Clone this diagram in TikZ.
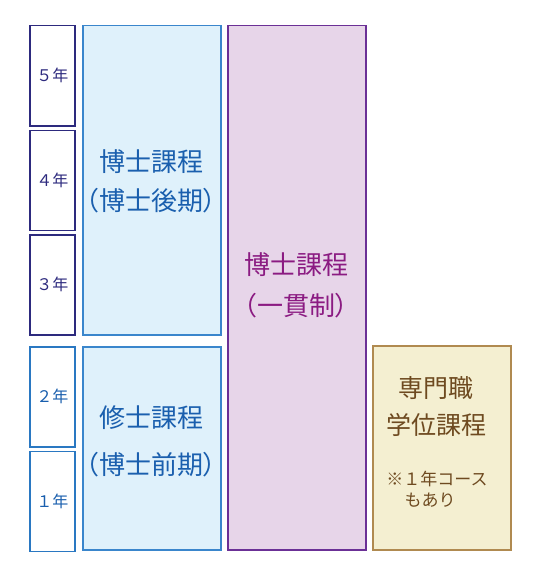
\documentclass[tikz,border=0pt]{standalone}
\usepackage{fontspec}
\newfontfamily\jp{Noto Sans CJK JP}
\newfontfamily\jpp[RawFeature=+palt]{Noto Sans CJK JP}
\definecolor{navy}{HTML}{2D2A7E}
\definecolor{yrblue}{HTML}{2A78C2}
\definecolor{skyfill}{HTML}{DFF1FB}
\definecolor{skyline}{HTML}{3A86CC}
\definecolor{skytext}{HTML}{1A5FAE}
\definecolor{plumfill}{HTML}{E7D5E9}
\definecolor{plumline}{HTML}{6B3096}
\definecolor{plumtext}{HTML}{8B1B82}
\definecolor{sandfill}{HTML}{F4EFD1}
\definecolor{sandline}{HTML}{B08A50}
\definecolor{sandtext}{HTML}{6E4A20}
\tikzset{
  box/.style={draw, line width=1.5pt, inner sep=0pt, anchor=north west},
  yearbox/.style={box, fill=white, minimum width=45pt, minimum height=100pt,
    font=\jp\fontsize{16}{16}\selectfont},
  big/.style={font=\jpp\fontsize{26}{26}\selectfont},
  mid/.style={font=\jp\fontsize{25}{25}\selectfont},
  small/.style={font=\jp\fontsize{17}{17}\selectfont},
}
\begin{document}
\begin{tikzpicture}[x=1pt, y=-1pt]
    \useasboundingbox (0, 0) rectangle (534, 575);
        % years
        \node[yearbox, draw=navy, text=navy] (y5) at (29, 25) {５年};
        \node[yearbox, draw=navy, text=navy] (y4) at (29, 129.5) {４年};
        \node[yearbox, draw=navy, text=navy] (y3) at (29, 234) {３年};
        \node[yearbox, draw=yrblue, text=skytext] (y2) at (29, 346) {２年};
        \node[yearbox, draw=yrblue, text=skytext] (y1) at (29, 450.5) {１年};
        % courses
        \node[box, draw=skyline, fill=skyfill, minimum width=138pt, minimum height=309pt] (doc) at (82, 25) {};
        \node[box, draw=skyline, fill=skyfill, minimum width=138pt, minimum height=203pt] (mas) at (82, 346) {};
        \node[box, draw=plumline, fill=plumfill, minimum width=138pt, minimum height=524pt] (int) at (227, 25) {};
        \node[box, draw=sandline, fill=sandfill, minimum width=138pt, minimum height=204pt] (pro) at (372, 345) {};
        % labels
        \node[big, text=skytext] (doca) at (151, 162) {博士課程};
        \node[big, text=skytext] (docb) at (151, 201) {（博士後期）};
        \node[big, text=skytext] (masa) at (151, 418) {修士課程};
        \node[big, text=skytext] (masb) at (151, 465) {（博士前期）};
        \node[big, text=plumtext] (inta) at (296, 265) {博士課程};
        \node[big, text=plumtext] (intb) at (296, 306) {（一貫制）};
        \node[mid, text=sandtext] (proa) at (436, 388) {専門職};
        \node[mid, text=sandtext] (prob) at (436, 425) {学位課程};
        \node[small, text=sandtext] (proc) at (437, 479) {※１年コース};
        \node[small, text=sandtext, anchor=west] (prod) at (401, 500) {もあり};
    \end{tikzpicture}
\end{document}
